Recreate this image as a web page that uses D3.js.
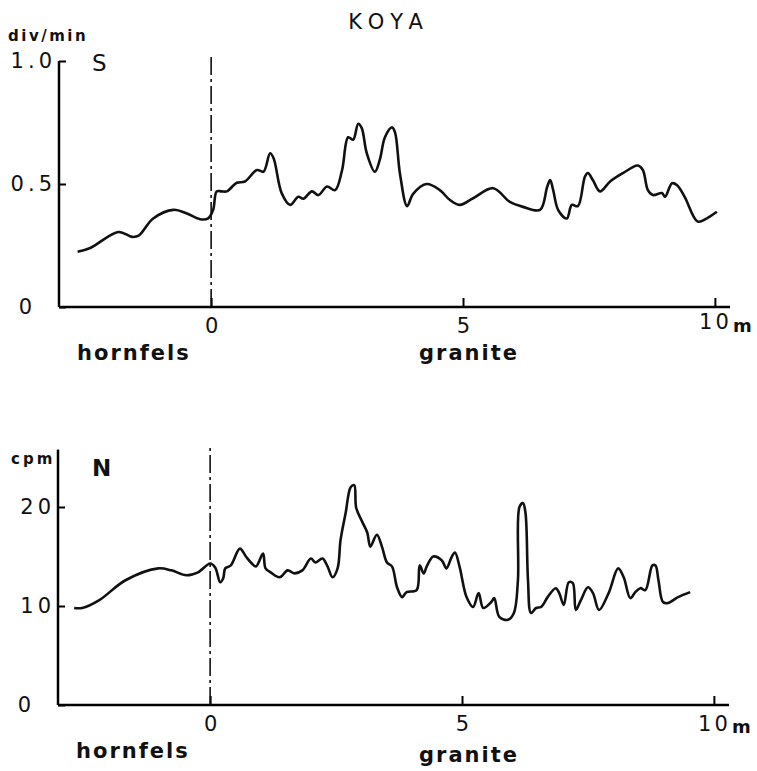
<!DOCTYPE html>
<html>
<head>
<meta charset="utf-8">
<script src="https://cdn.jsdelivr.net/npm/d3@7"></script>
<style>
  body { margin: 0; background: #fff; }
  text { font-family: "DejaVu Sans", sans-serif; fill: #111; }
</style>
</head>
<body>
<script>
// distance along profile (m) and values
const sDist = [-2.65, -2.4, -1.84, -1.57, -1.44, -1.15, -0.75, -0.48, -0.22, -0.06, 0.04, 0.11, 0.21, 0.31, 0.51, 0.67, 0.91, 1.04, 1.17, 1.24, 1.4, 1.57, 1.73, 1.83, 2.0, 2.13, 2.3, 2.46, 2.6, 2.72, 2.82, 2.92, 2.99, 3.09, 3.25, 3.35, 3.45, 3.59, 3.65, 3.75, 3.89, 4.01, 4.28, 4.54, 4.74, 4.94, 5.2, 5.6, 5.93, 6.19, 6.53, 6.67, 6.73, 6.79, 6.89, 7.06, 7.16, 7.28, 7.42, 7.48, 7.58, 7.72, 7.92, 8.18, 8.47, 8.57, 8.67, 8.77, 8.95, 9.01, 9.15, 9.25, 9.4, 9.66, 9.84, 10.04];
const sValues = [0.225, 0.24, 0.305, 0.285, 0.29, 0.36, 0.395, 0.38, 0.357, 0.36, 0.395, 0.47, 0.47, 0.47, 0.505, 0.51, 0.557, 0.55, 0.625, 0.605, 0.463, 0.415, 0.448, 0.44, 0.47, 0.455, 0.49, 0.475, 0.557, 0.69, 0.68, 0.745, 0.727, 0.625, 0.55, 0.6, 0.69, 0.73, 0.71, 0.54, 0.41, 0.46, 0.5, 0.475, 0.435, 0.415, 0.442, 0.483, 0.427, 0.407, 0.395, 0.488, 0.516, 0.475, 0.394, 0.36, 0.415, 0.41, 0.53, 0.545, 0.515, 0.47, 0.51, 0.545, 0.575, 0.557, 0.475, 0.455, 0.463, 0.448, 0.503, 0.495, 0.448, 0.347, 0.36, 0.387];

const nDist = [-2.7, -2.54, -2.2, -1.68, -1.03, -0.77, -0.47, -0.24, 0.0, 0.1, 0.2, 0.26, 0.3, 0.41, 0.59, 0.71, 0.81, 0.91, 1.05, 1.1, 1.2, 1.38, 1.54, 1.67, 1.83, 2.0, 2.09, 2.23, 2.33, 2.43, 2.53, 2.59, 2.69, 2.79, 2.86, 2.9, 3.02, 3.12, 3.18, 3.31, 3.41, 3.51, 3.61, 3.71, 3.81, 3.9, 4.1, 4.16, 4.24, 4.3, 4.43, 4.6, 4.69, 4.79, 4.86, 4.95, 5.09, 5.22, 5.33, 5.42, 5.58, 5.64, 5.74, 5.91, 6.03, 6.11, 6.14, 6.21, 6.26, 6.31, 6.37, 6.47, 6.57, 6.7, 6.86, 6.93, 7.02, 7.12, 7.2, 7.26, 7.36, 7.5, 7.6, 7.72, 7.91, 8.1, 8.21, 8.34, 8.44, 8.54, 8.64, 8.78, 8.84, 8.9, 8.99, 9.09, 9.29, 9.53];
const nValues = [9.8, 9.8, 10.6, 12.6, 13.8, 13.6, 13.1, 13.4, 14.3, 13.9, 12.4, 12.8, 13.8, 14.1, 15.8, 15.0, 14.4, 14.0, 15.3, 13.8, 13.4, 12.9, 13.6, 13.3, 13.6, 14.8, 14.4, 14.8, 14.0, 12.9, 13.8, 16.7, 19.4, 22.0, 22.2, 19.9, 18.5, 17.4, 16.0, 17.2, 16.0, 14.4, 14.0, 11.9, 10.9, 11.4, 11.6, 14.1, 13.3, 14.0, 15.0, 14.6, 13.8, 14.9, 15.4, 14.0, 10.9, 9.9, 11.3, 9.8, 10.4, 10.8, 8.9, 8.6, 9.3, 12.6, 20.0, 20.4, 19.4, 12.6, 9.3, 9.8, 9.9, 10.9, 11.8, 11.3, 10.1, 12.4, 12.3, 9.6, 10.6, 11.9, 11.3, 9.6, 11.3, 13.8, 12.9, 10.8, 11.4, 11.8, 11.6, 14.1, 14.1, 12.6, 10.4, 10.3, 10.9, 11.4];

const xTicks = [0, 5, 10];
const sTicks = [0, 0.5, 1.0];
const nTicks = [0, 10, 20];

const width = 757, height = 771;
const svg = d3.select("body").append("svg")
  .attr("width", width).attr("height", height);

svg.append("text")
  .attr("x", 389).attr("y", 29)
  .attr("text-anchor", "middle")
  .style("font-size", "21px")
  .style("letter-spacing", "7px")
  .text("KOYA");

function panel(o) {
  const x = d3.scaleLinear().domain([-3.02, 10.3]).range([o.left, o.right]);
  const y = d3.scaleLinear().domain([0, o.yTop]).range([o.bottom, o.top]);
  const g = svg.append("g");

  // y axis, ticks point inward
  g.append("g")
    .attr("transform", `translate(${o.left},0)`)
    .call(d3.axisLeft(y).tickValues(o.yTicks).tickSize(-7).tickPadding(3)
      .tickFormat(o.fmt))
    .call(a => a.select(".domain").attr("stroke-width", 2.5).attr("d", `M0,${o.bottom}V${y(o.yMax)}`))
    .call(a => a.selectAll(".tick line").attr("stroke-width", 2))
    .call(a => a.selectAll(".tick text").style("font-size", "21px")
      .style("letter-spacing", "4px").attr("fill", "#111"))
    .call(a => a.selectAll(".tick").filter(d => d === 0).select("text").attr("dx", -20));

  // x axis, ticks point up
  g.append("g")
    .attr("transform", `translate(0,${o.bottom})`)
    .call(d3.axisBottom(x).tickValues(xTicks).tickSize(-9).tickPadding(o.xPad))
    .call(a => a.select(".domain").attr("stroke-width", 2.5).attr("d", `M${o.left},0H${o.right}`))
    .call(a => a.selectAll(".tick line").attr("stroke-width", 2))
    .call(a => a.selectAll(".tick text").style("font-size", "21px").attr("fill", "#111")
      .attr("dy", "0.95em"))
    .call(a => a.selectAll(".tick").filter(d => d === 10).select("text")
      .style("letter-spacing", "3px").attr("dy", o.tenDy));

  g.append("text")
    .attr("x", x(10) + 18).attr("y", o.bottom + o.mY)
    .style("font-size", "18px").style("font-weight", "bold")
    .text("m");

  // boundary hornfels / granite
  g.append("line")
    .attr("x1", x(0)).attr("x2", x(0))
    .attr("y1", o.bottom).attr("y2", o.dashTop)
    .attr("stroke", "#111").attr("stroke-width", 1.6)
    .attr("stroke-dasharray", "18,4,3,4");

  g.append("text").attr("x", o.unitX).attr("y", o.unitY)
    .style("font-size", "15px").style("font-weight", "bold").style("letter-spacing", o.unitSp)
    .text(o.unit);
  g.append("text").attr("x", 92).attr("y", o.nameY)
    .style("font-size", "23px").style("font-weight", o.nameW)
    .text(o.name);

  g.append("text").attr("x", o.left + 18).attr("y", o.bottom + 53)
    .style("font-size", "21px").style("font-weight", "bold").style("letter-spacing", "2px")
    .text("hornfels");
  g.append("text").attr("x", 469).attr("y", o.bottom + o.graniteY)
    .attr("text-anchor", "middle")
    .style("font-size", "21px").style("font-weight", "bold").style("letter-spacing", "2px")
    .text("granite");

  const line = d3.line()
    .x((d, i) => x(o.dist[i]))
    .y(d => y(d))
    .curve(d3.curveCatmullRom.alpha(0.5));

  g.append("path")
    .attr("d", line(o.values))
    .attr("fill", "none")
    .attr("stroke", "#111")
    .attr("stroke-width", 2.6)
    .attr("stroke-linejoin", "round");
}

panel({
  left: 59, right: 730, top: 61, bottom: 307, yTop: 1.0, yMax: 1.0,
  yTicks: sTicks, fmt: d => d === 0 ? "0" : d.toFixed(1),
  dashTop: 57, unit: "div/min", unitSp: "2.5px", unitX: 8, unitY: 41,
  name: "S", nameW: "normal", nameY: 71, tenDy: "0.75em", mY: 25,
  xPad: 6, graniteY: 53,
  dist: sDist, values: sValues
});

panel({
  left: 58, right: 729, top: 507, bottom: 705, yTop: 20, yMax: 25.8,
  yTicks: nTicks, fmt: d => String(d),
  dashTop: 447, unit: "cpm", unitSp: "3px", unitX: 11, unitY: 464,
  name: "N", nameW: "bold", nameY: 476, tenDy: "0.95em", mY: 28,
  xPad: 6, graniteY: 57,
  dist: nDist, values: nValues
});
</script>
</body>
</html>
